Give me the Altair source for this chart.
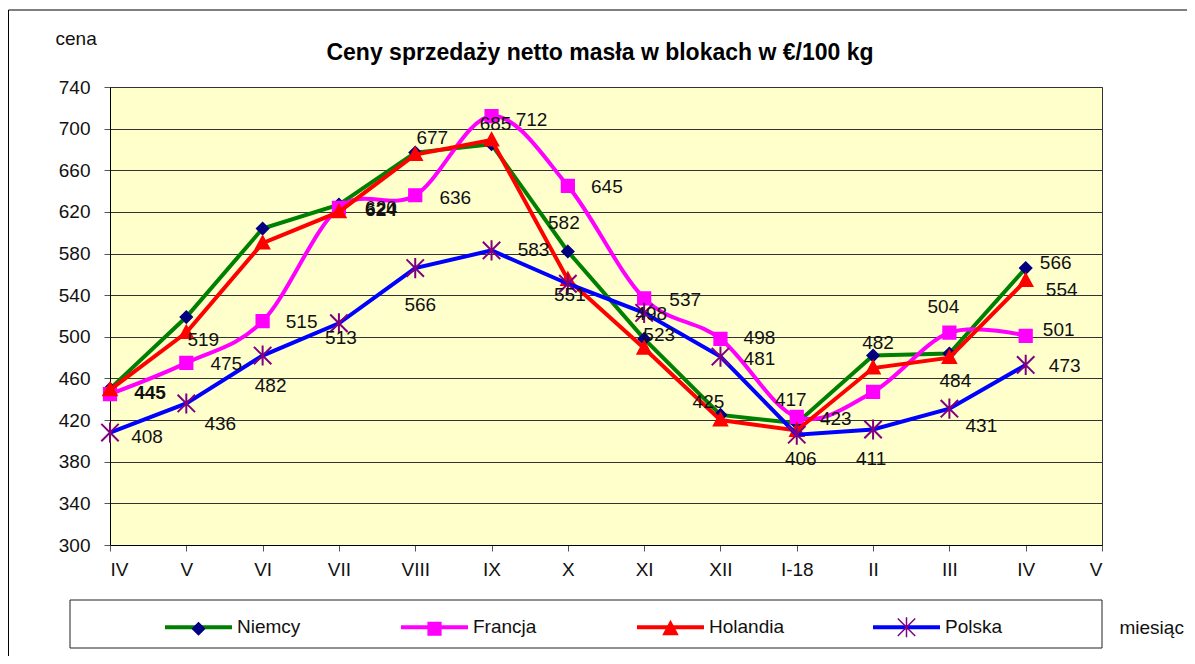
import json
import altair as alt
import pandas as pd

# ---------------- data ----------------
MONTHS = ["IV", "V", "VI", "VII", "VIII", "IX", "X", "XI", "XII", "I-18", "II", "III", "IV", "V"]
SERIES = ["Niemcy", "Francja", "Holandia", "Polska"]
NIEMCY = [450, 519, 604, 627, 677, 685, 582, 498, 425, 417, 482, 484, 566]
FRANCJA = [445, 475, 515, 624, 636, 712, 645, 537, 498, 423, 447, 504, 501]
HOLANDIA = [449, 504, 590, 620, 675, 689, 555, 489, 420, 410, 470, 480, 554]
POLSKA = [408, 436, 482, 513, 566, 583, 551, 523, 481, 406, 411, 431, 473]
Y_TICKS = list(range(300, 741, 40))
TITLE = "Ceny sprzedaży netto masła w blokach w €/100 kg"

# ---------------- styles ----------------
FONT = "Liberation Sans, Arial, sans-serif"
LINE_COLORS = ["#008000", "#FF00FF", "#FF0000", "#0000FF"]
MARK_COLORS = ["#000080", "#FF00FF", "#FF0000", "#800080"]
MARK_PATHS = [
    "M0,-0.18L0.18,0L0,0.18L-0.18,0Z",
    "M-0.19,-0.19L0.19,-0.19L0.19,0.19L-0.19,0.19Z",
    "M0,-0.22L0.21,0.17L-0.21,0.17Z",
    "M-0.26,-0.26L0.26,0.26M-0.26,0.26L0.26,-0.26M0,-0.3L0,0.3",
]
SMOOTH = {"Francja"}
SYM = 4489  # symbol area -> 67px legend stroke

# label placement (dx, dy, bold) per series / month index
LABEL_STYLE = {
    "Niemcy": {1: (17, 23, 0), 4: (17, -15, 0), 5: (4, -20, 0), 6: (-4, -28, 0),
               7: (7, -25, 0), 8: (-12, -13, 0), 9: (-6, -23, 0), 10: (5, -13, 0),
               11: (6, 28, 0), 12: (30, -5, 0)},
    "Francja": {0: (40, -1, 1), 1: (40, 1, 0), 2: (39, 1, 0), 3: (42, 2, 1),
                4: (40, 3, 0), 5: (40, 4, 0), 6: (39, 1, 0), 7: (41, 2, 0),
                8: (39, -1, 0), 9: (39, 2, 0), 11: (-6, -26, 0), 12: (33, -6, 0)},
    "Holandia": {3: (42, -4, 0), 12: (36, 9, 0)},
    "Polska": {0: (37, 4, 0), 1: (34, 21, 0), 2: (8, 30, 0), 3: (2, 15, 0),
               4: (5, 37, 0), 5: (42, 0, 0), 6: (2, 11, 0), 7: (15, 22, 0),
               8: (39, 2, 0), 9: (4, 24, 0), 10: (-2, 30, 0), 11: (32, 17, 0),
               12: (39, 1, 0)},
}

MARK_KEYS = ["m:" + s for s in SERIES]
values = {"Niemcy": NIEMCY, "Francja": FRANCJA, "Holandia": HOLANDIA, "Polska": POLSKA}
rows = []
for s in SERIES:
    for i, v in enumerate(values[s]):
        rows.append({"idx": i, "series": s, "marker": "m:" + s, "value": v})
df = pd.DataFrame(rows)

W, H = 992, 458

x_enc = alt.X(
    "idx:Q",
    scale=alt.Scale(domain=[0, len(MONTHS) - 1], nice=False, zero=False),
    axis=alt.Axis(
        values=list(range(len(MONTHS))),
        labelExpr=json.dumps(MONTHS) + "[datum.value]",
        grid=False, tickSize=6, tickColor="#555555", domainColor="#000000",
        labelPadding=9, labelFont=FONT, labelFontSize=19, labelColor="#111111",
        titleX=1009, titleY=82, titleAlign="left", titleBaseline="middle",
        titleFont=FONT, titleFontSize=19, titleFontWeight="normal", titleColor="#111111",
    ),
    title="miesiąc",
)
y_enc = alt.Y(
    "value:Q",
    scale=alt.Scale(domain=[300, 740], nice=False, zero=False),
    axis=alt.Axis(
        values=Y_TICKS, format="d", grid=True, gridColor="#333333", gridWidth=1,
        tickSize=6, tickColor="#555555", domainColor="#000000", labelPadding=14,
        labelFont=FONT, labelFontSize=19, labelColor="#111111",
        titleX=-55, titleY=-49, titleAngle=0, titleAlign="left", titleBaseline="middle",
        titleFont=FONT, titleFontSize=19, titleFontWeight="normal", titleColor="#111111",
    ),
    title="cena",
)

LINE_LEGEND = alt.Legend(
    title=None, orient="none", legendX=53, legendY=504.5, direction="horizontal",
    columns=4, columnPadding=81, gridAlign="all", symbolType="stroke", symbolSize=SYM,
    symbolStrokeWidth=4, labelOffset=3, padding=0,
    labelFont=FONT, labelFontSize=19, labelColor="#111111",
)
MARK_LEGEND = alt.Legend(
    title=None, orient="none", legendX=54, legendY=505.5, direction="horizontal",
    columns=4, columnPadding=167, gridAlign="all", symbolSize=SYM, symbolStrokeWidth=1.5,
    labelOffset=0, padding=0, labelExpr="''",
    labelFont=FONT, labelFontSize=19, labelColor="#111111",
)

color_enc = alt.Color("series:N", scale=alt.Scale(domain=SERIES, range=LINE_COLORS), legend=LINE_LEGEND)
shape_enc = alt.Shape("marker:N", scale=alt.Scale(domain=MARK_KEYS, range=MARK_PATHS), legend=MARK_LEGEND)
fill_enc = alt.Fill("marker:N", scale=alt.Scale(domain=MARK_KEYS, range=MARK_COLORS), legend=MARK_LEGEND)
stroke_enc = alt.Stroke("marker:N", scale=alt.Scale(domain=MARK_KEYS, range=MARK_COLORS), legend=MARK_LEGEND)

base = alt.Chart(df)
one = alt.Chart(pd.DataFrame({"k": [0]}))

layers = []
# outer frame and legend box (decoration)
layers.append(one.mark_rect(fillOpacity=0, stroke="#000000", strokeWidth=1).encode(
    x=alt.value(-101.5), x2=alt.value(1300), y=alt.value(-77), y2=alt.value(800)))
layers.append(one.mark_rect(fill="#FFFFFF", stroke="#222222", strokeWidth=1).encode(
    x=alt.value(-40), x2=alt.value(992), y=alt.value(513), y2=alt.value(561)))

for s in SERIES:
    sel = base.transform_filter(alt.datum.series == s)
    layers.append(sel.mark_line(
        strokeWidth=4, interpolate="cardinal" if s in SMOOTH else "linear"
    ).encode(x=x_enc, y=y_enc, color=color_enc))
    layers.append(sel.mark_point(
        filled=True, size=SYM, opacity=1, strokeWidth=2 if s == "Polska" else 1.5
    ).encode(x=x_enc, y=y_enc, shape=shape_enc, fill=fill_enc, stroke=stroke_enc))

for s in SERIES:
    for i, (dx, dy, bold) in LABEL_STYLE[s].items():
        layers.append(
            base.transform_filter((alt.datum.series == s) & (alt.datum.idx == i))
            .mark_text(dx=dx, dy=dy, align="center", baseline="middle", font=FONT,
                       fontSize=19, fontWeight="bold" if bold else "normal", color="#111111")
            .encode(x=x_enc, y=y_enc, text=alt.Text("value:Q", format="d"))
        )

chart = (
    alt.layer(*layers)
    .properties(
        width=W, height=H,
        title=alt.TitleParams(TITLE, font=FONT, fontSize=23, fontWeight="bold", color="#000000",
                              anchor="middle", offset=-55, dx=-6),
        autosize=alt.AutoSizeParams(type="none"),
        padding={"left": 102, "top": 79, "right": 85, "bottom": 111},
        background="#FFFFFF",
    )
    .configure_view(fill="#FFFFCC", stroke="#333333", strokeWidth=1)
)

chart.save("out.html", embed_options={"renderer": "svg", "actions": False})
